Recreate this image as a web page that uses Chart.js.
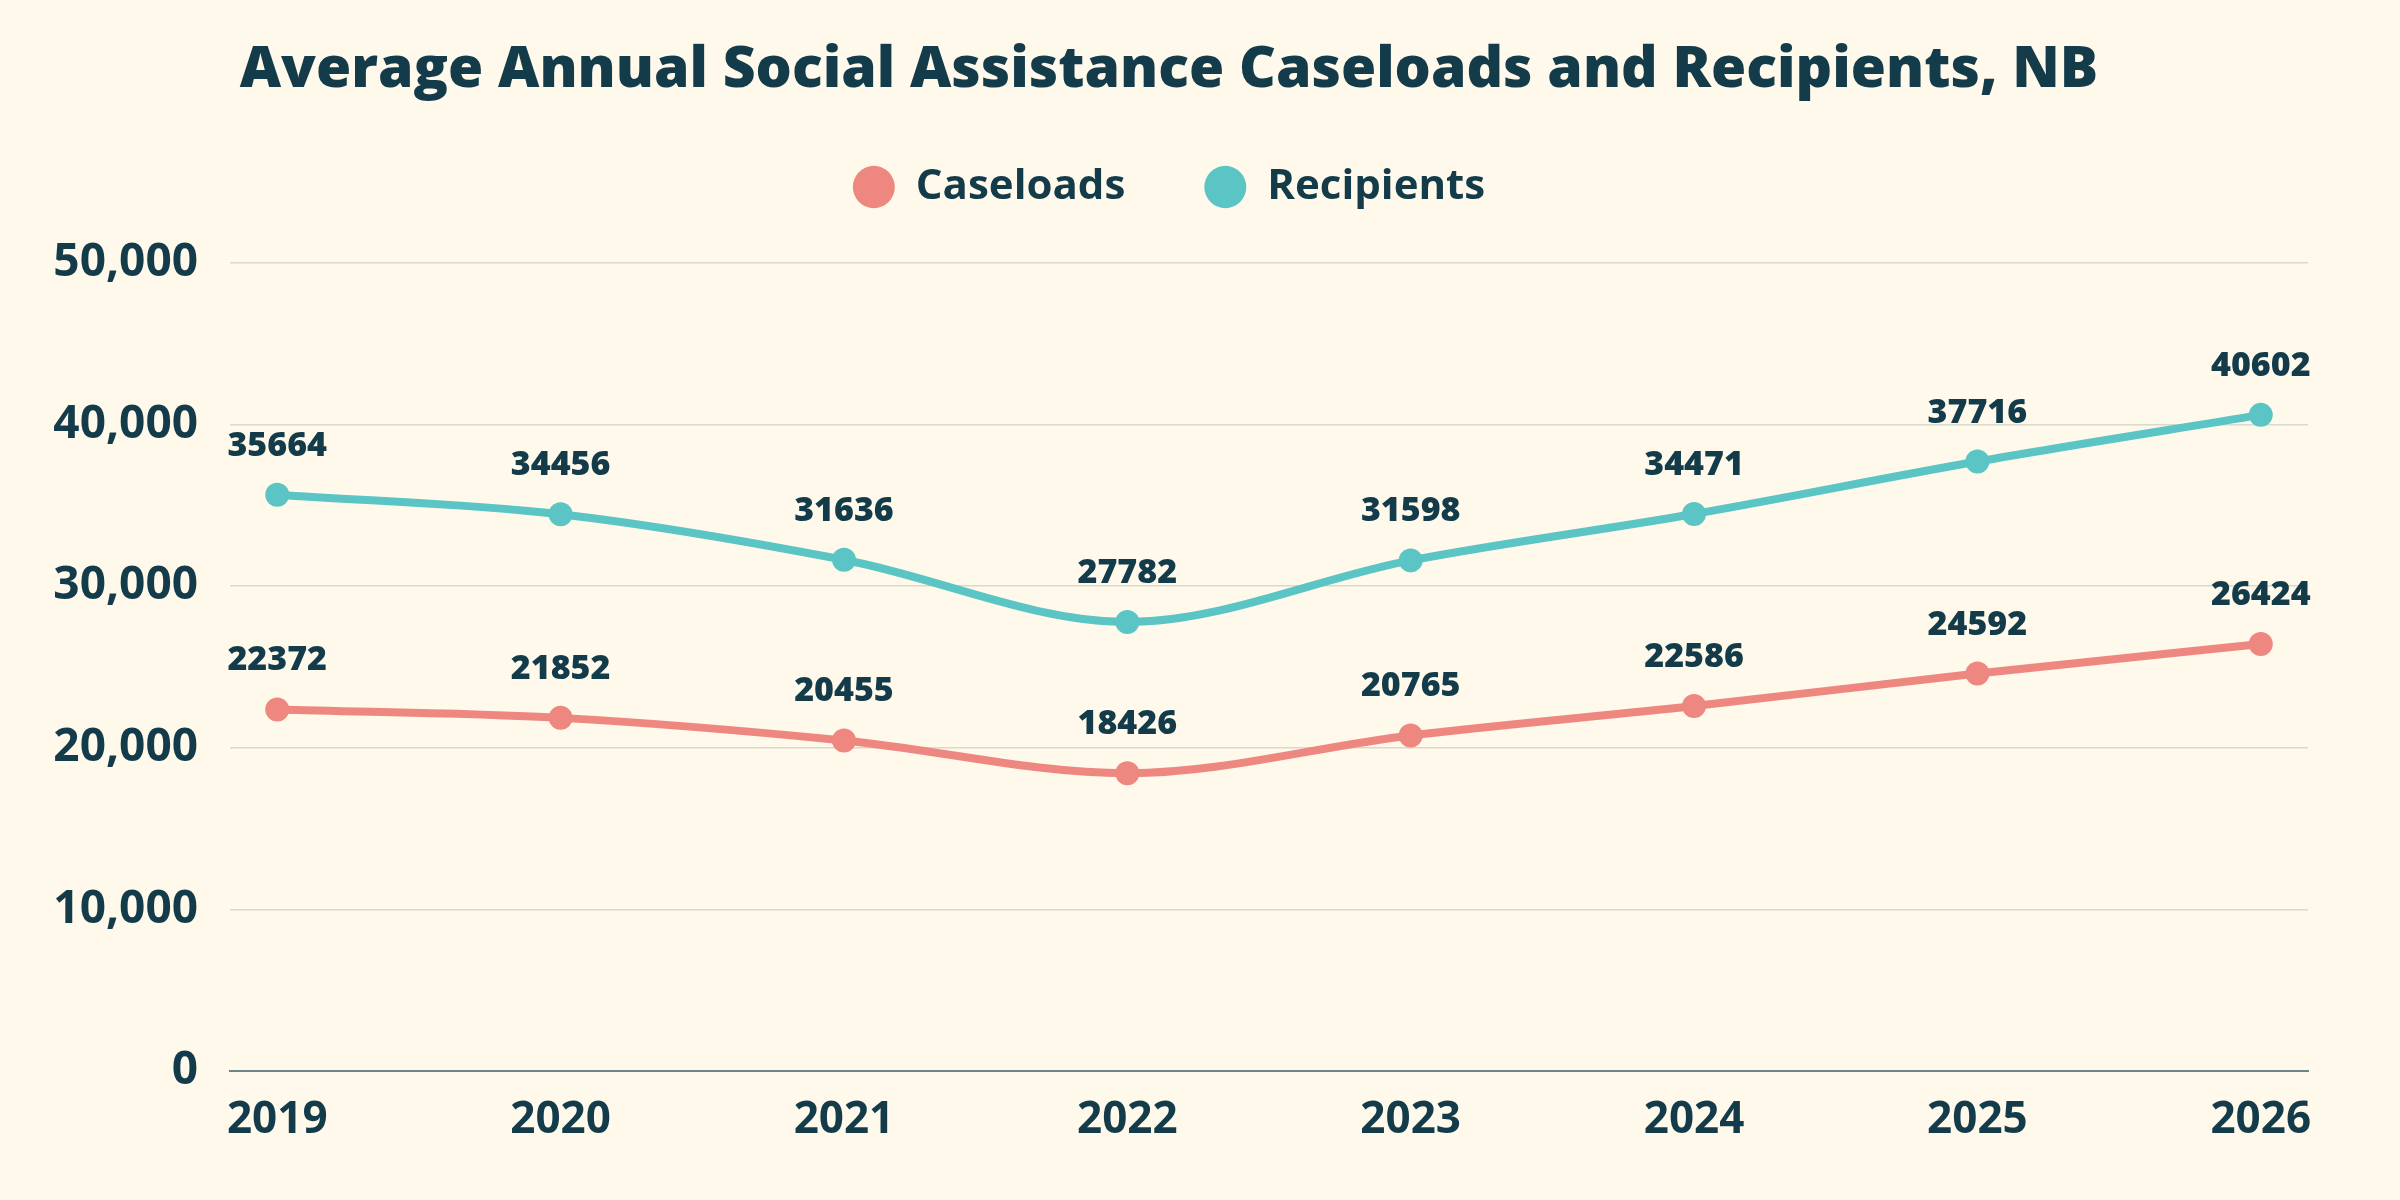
<!DOCTYPE html>
<html>
<head>
<meta charset="utf-8">
<script src="https://cdn.jsdelivr.net/npm/chart.js@4"></script>
<style>
  html, body { margin: 0; padding: 0; background: #fef9ea; }
  #chart { display: block; }
</style>
</head>
<body>
<canvas id="chart" width="2400" height="1200"></canvas>
<script>
// values
const years = [2019, 2020, 2021, 2022, 2023, 2024, 2025, 2026];
const caseloads = [22372, 21852, 20455, 18426, 20765, 22586, 24592, 26424];
const recipients = [35664, 34456, 31636, 27782, 31598, 34471, 37716, 40602];
const yTicks = [0, 10000, 20000, 30000, 40000, 50000];

const ink = '#133b4a';
const fontName = '"Open Sans", "Noto Sans", sans-serif';

function toPoints(values) {
    return years.map((yr, i) => ({x: yr, y: values[i]}));
}

// value labels above each point
const valueLabels = {
    id: 'valueLabels',
    afterDatasetsDraw(chart) {
        const c = chart.ctx;
        c.save();
        c.font = '800 34px ' + fontName;
        c.fillStyle = ink;
        c.textAlign = 'center';
        c.textBaseline = 'alphabetic';
        chart.data.datasets.forEach((ds, di) => {
            chart.getDatasetMeta(di).data.forEach((pt, i) => {
                c.fillText(String(ds.data[i].y), pt.x, pt.y - 39);
            });
        });
        c.restore();
    }
};

const ctx = document.getElementById('chart');
const lineChart = new Chart(ctx, {
    type: 'line',
    data: {
        datasets: [{
            label: 'Caseloads',
            data: toPoints(caseloads),
            borderColor: '#ee8780',
            backgroundColor: '#ee8780',
            borderWidth: 8,
            pointRadius: 12,
            pointBorderWidth: 0,
            cubicInterpolationMode: 'monotone',
            xAxisID: 'x',
            yAxisID: 'y'
        }, {
            label: 'Recipients',
            data: toPoints(recipients),
            borderColor: '#5ac5c4',
            backgroundColor: '#5ac5c4',
            borderWidth: 8,
            pointRadius: 12,
            pointBorderWidth: 0,
            cubicInterpolationMode: 'monotone',
            xAxisID: 'x',
            yAxisID: 'y'
        }]
    },
    options: {
        responsive: false,
        devicePixelRatio: 1,
        animation: false,
        events: [],
        layout: {
            padding: {left: 30, right: 92, top: 0, bottom: 0}
        },
        plugins: {
            title: {
                display: true,
                text: 'Average Annual Social Assistance Caseloads and Recipients, NB',
                color: ink,
                font: {family: fontName, size: 57, weight: '800', lineHeight: 1},
                padding: {top: 42, bottom: -12}
            },
            legend: {
                display: true,
                position: 'top',
                labels: {
                    color: ink,
                    font: {family: fontName, size: 42, weight: '700'},
                    usePointStyle: true,
                    pointStyle: 'circle',
                    boxHeight: 30,
                    boxWidth: 42,
                    pointStyleWidth: 42,
                    padding: 79
                }
            },
            tooltip: {enabled: false}
        },
        scales: {
            x: {
                type: 'linear',
                position: 'bottom',
                min: years[0] - 1 / 6,
                max: years[years.length - 1] + 1 / 6,
                grid: {display: false},
                border: {display: true, color: '#6f8585', width: 2},
                ticks: {
                    color: ink,
                    padding: 15,
                    font: {family: fontName, size: 44, weight: 'bold'},
                    callback: (v) => String(v)
                },
                afterBuildTicks(scale) {
                    scale.ticks = years.map(v => ({value: v}));
                },
                afterFit(scale) {
                    scale.height = 129;
                }
            },
            // empty band between the legend and the plot
            xSpace: {
                type: 'linear',
                position: 'top',
                display: true,
                grid: {display: false},
                border: {display: false},
                ticks: {display: false},
                afterFit(scale) {
                    scale.height = 45;
                }
            },
            y: {
                type: 'linear',
                min: 0,
                max: 50000,
                border: {display: false},
                grid: {
                    drawTicks: false,
                    lineWidth: 1.5,
                    color: (c) => c.tick && c.tick.value === 0 ? 'rgba(0,0,0,0)' : '#d9dacc'
                },
                ticks: {
                    color: ink,
                    padding: 32,
                    font: {family: fontName, size: 46, weight: 'bold'},
                    callback: (v) => v.toLocaleString('en-US')
                },
                afterBuildTicks(scale) {
                    scale.ticks = yTicks.map(v => ({value: v}));
                },
                afterFit(scale) {
                    scale.width = 200;
                }
            }
        }
    },
    plugins: [valueLabels]
});
</script>
</body>
</html>
